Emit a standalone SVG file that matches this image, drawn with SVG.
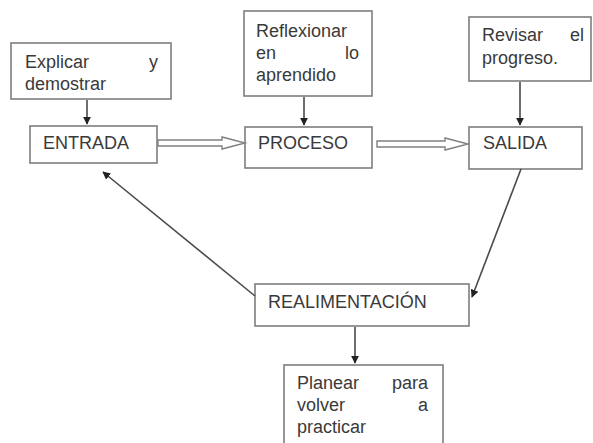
<svg xmlns="http://www.w3.org/2000/svg" width="593" height="443" viewBox="0 0 593 443">
<style>
.box{fill:#fff;stroke:#7d7d7d;stroke-width:1.6}
.t{font-family:"Liberation Sans",Arial,sans-serif;font-size:18px;fill:#3a3a3a}
.r{text-anchor:end}
.ln{fill:none;stroke:#4a4a4a;stroke-width:1.6}
.hol{fill:#fff;stroke:#808080;stroke-width:1.4;stroke-linejoin:miter}
</style>
<defs>
<marker id="ah" viewBox="0 0 10 10" refX="9" refY="5" markerWidth="5" markerHeight="5" orient="auto" markerUnits="strokeWidth">
<path d="M0,0 L10,5 L0,10 z" fill="#222"/>
</marker>
</defs>
<rect width="593" height="443" fill="#fff"/>
<g id="explicar">
<rect class="box" x="11" y="43" width="160" height="56"/>
<text class="t" x="25" y="68">Explicar</text>
<text class="t r" x="158" y="68">y</text>
<text class="t" x="25" y="90">demostrar</text>
</g>
<g id="reflexionar">
<rect class="box" x="244" y="11" width="128" height="85"/>
<text class="t" x="256" y="37">Reflexionar</text>
<text class="t" x="256" y="59">en</text>
<text class="t r" x="359" y="59">lo</text>
<text class="t" x="256" y="81">aprendido</text>
</g>
<g id="revisar">
<rect class="box" x="469" y="17" width="122" height="64"/>
<text class="t" x="482" y="41">Revisar</text>
<text class="t r" x="584" y="41">el</text>
<text class="t" x="482" y="64">progreso.</text>
</g>
<g id="entrada">
<rect class="box" x="30" y="126" width="127" height="37"/>
<text class="t" x="43" y="149">ENTRADA</text>
</g>
<g id="proceso">
<rect class="box" x="245" y="127" width="127" height="41"/>
<text class="t" x="258" y="149">PROCESO</text>
</g>
<g id="salida">
<rect class="box" x="469" y="127" width="113" height="42"/>
<text class="t" x="483" y="149">SALIDA</text>
</g>
<g id="realimentacion">
<rect class="box" x="255" y="284" width="214" height="42"/>
<text class="t" x="268" y="308">REALIMENTACIÓN</text>
</g>
<g id="planear">
<rect class="box" x="284" y="365" width="159" height="90"/>
<text class="t" x="297" y="389">Planear</text>
<text class="t r" x="428" y="389">para</text>
<text class="t" x="297" y="411">volver</text>
<text class="t r" x="428" y="411">a</text>
<text class="t" x="297" y="433">practicar</text>
</g>
<g id="connectors">
<line class="ln" x1="87" y1="100" x2="87" y2="124" marker-end="url(#ah)" stroke-width="2"/>
<line class="ln" x1="304" y1="97" x2="304" y2="125" marker-end="url(#ah)" stroke-width="2"/>
<line class="ln" x1="520" y1="82" x2="520" y2="125" marker-end="url(#ah)" stroke-width="2.4"/>
<polygon class="hol" points="158,140 222,140 222,137 245,143 222,149 222,146 158,146"/>
<polygon class="hol" points="377,141 445,141 445,138 468,144 445,150 445,147 377,147"/>
<line class="ln" x1="521" y1="169" x2="472" y2="297" marker-end="url(#ah)" stroke-width="2"/>
<line class="ln" x1="255" y1="296" x2="103" y2="172" marker-end="url(#ah)" stroke-width="2"/>
<line class="ln" x1="355" y1="327" x2="355" y2="363" marker-end="url(#ah)" stroke-width="2"/>
</g>
</svg>
